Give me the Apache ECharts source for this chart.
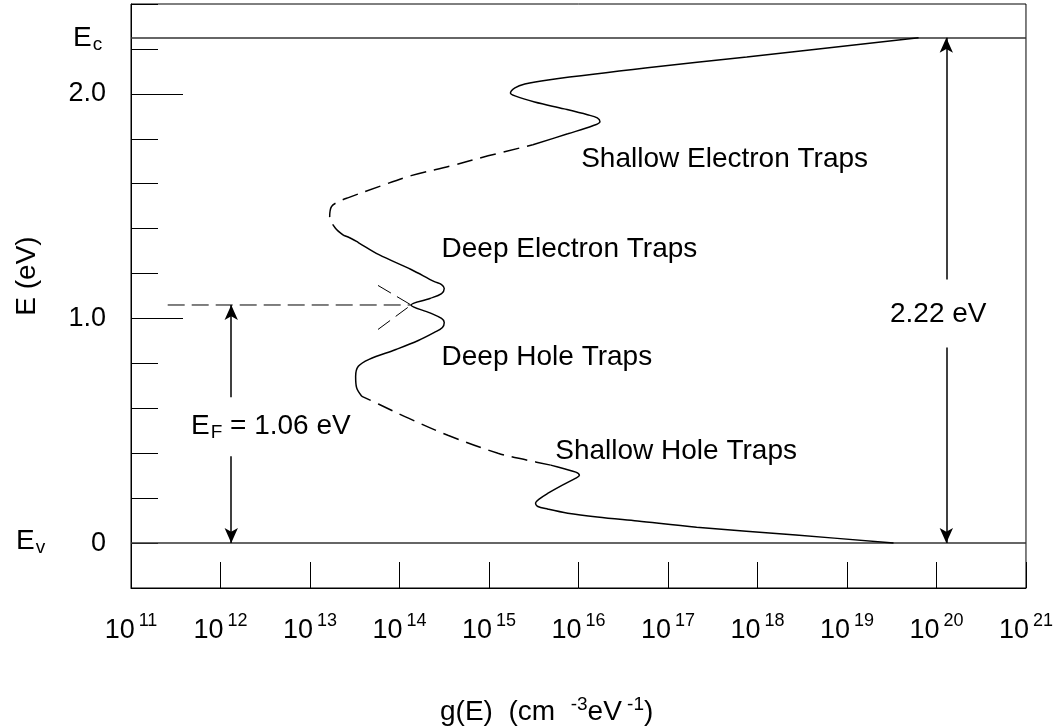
<!DOCTYPE html>
<html><head><meta charset="utf-8">
<script src="https://cdn.jsdelivr.net/npm/echarts@6/dist/echarts.min.js"></script>
<style>html,body{margin:0;padding:0;background:#fff}#c{width:1056px;height:728px}</style>
</head><body><div id="c"></div>
<script>
// x = log10 g(E) [cm^-3 eV^-1], y = E [eV]
const xTickValues = [11, 12, 13, 14, 15, 16, 17, 18, 19, 20, 21];
const yLabelValues = [0, 1, 2];
const yLongTickValues = [1, 2];
const Ec = 2.25, Ev = 0, EF = 1.06;
const gapArrowX = 20.11, fermiArrowX = 12.12;

// band-tail / trap distribution curve
const shallowHoleSolid = [[19.52,0],[18.43,0.036],[17.32,0.071],[16.66,0.098],[16.21,0.116],[15.88,0.133],[15.66,0.151],[15.54,0.164],[15.52,0.178],[15.56,0.196],[15.66,0.222],[15.82,0.258],[15.97,0.289],[16.01,0.302],[15.97,0.316],[15.82,0.333],[15.69,0.347]];
const lowerDashed = [[15.69,0.347],[15.43,0.369],[15.10,0.40],[14.54,0.48],[14.10,0.556],[13.77,0.618],[13.58,0.653]];
const deepTrapSolid = [[13.58,0.653],[13.52,0.693],[13.51,0.742],[13.54,0.787],[13.66,0.818],[13.96,0.862],[14.21,0.902],[14.39,0.938],[14.48,0.96],[14.50,0.982],[14.47,1.0],[14.34,1.025],[14.13,1.06],[14.34,1.089],[14.47,1.111],[14.50,1.133],[14.47,1.151],[14.39,1.164],[14.13,1.218],[13.77,1.284],[13.54,1.338],[13.46,1.356],[13.38,1.369]];
const upperDashed = [[13.38,1.369],[13.28,1.404],[13.22,1.453],[13.24,1.498],[13.32,1.52],[13.43,1.538],[13.77,1.587],[14.13,1.636],[14.58,1.68],[14.99,1.724],[15.49,1.773]];
const shallowElectronSolid = [[15.49,1.773],[15.88,1.822],[16.16,1.858],[16.24,1.876],[16.21,1.893],[16.10,1.907],[15.84,1.933],[15.51,1.964],[15.29,1.991],[15.24,2.004],[15.29,2.027],[15.40,2.044],[15.66,2.062],[16.77,2.116],[17.88,2.164],[19.80,2.25]];
const fermiLine = [[11.41,1.06],[14.13,1.06]];
const tangentUpper = [[13.76,1.147],[14.13,1.06]];
const tangentLower = [[13.76,0.951],[14.13,1.06]];
// arrow segments [from E, to E] (gaps leave room for labels)
const fermiArrowParts = [[0.649, 1.06], [0.387, 0]];
const gapArrowParts = [[1.173, 2.25], [0.871, 0]];

const notes = [
  {text: 'Shallow Electron Traps', x: 16.03, y: 1.71},
  {text: 'Deep Electron Traps', x: 14.47, y: 1.31},
  {text: 'Deep Hole Traps', x: 14.47, y: 0.825},
  {text: 'Shallow Hole Traps', x: 15.74, y: 0.41}
];

const FONT = '"Liberation Sans", Arial, Helvetica, sans-serif';
const chart = echarts.init(document.getElementById('c'), null, {renderer: 'canvas'});

function curve(name, data, dashed) {
  return {
    name, type: 'line', data, showSymbol: false, symbol: 'none', smooth: 0.35,
    silent: true, animation: false, z: 5,
    lineStyle: {color: '#000', width: 1.5, type: dashed ? [16, 8] : 'solid'}
  };
}
function arrowLines(x, parts) {
  return parts.map(p => [{coord: [x, p[0]]}, {coord: [x, p[1]]}]);
}

const option = {
  animation: false,
  backgroundColor: '#fff',
  grid: {left: 131, top: 4, right: 25, bottom: 140, show: true, borderColor: '#000', borderWidth: 1, backgroundColor: 'transparent'},
  xAxis: {
    type: 'value', min: 11, max: 21, interval: 1,
    axisLine: {show: true, onZero: false, lineStyle: {color: '#000', width: 1}},
    axisTick: {show: true, inside: true, length: 26, lineStyle: {color: '#000', width: 1}},
    splitLine: {show: false},
    axisLabel: {
      show: true, margin: 24, showMinLabel: true, showMaxLabel: true,
      formatter: v => '{a|10}{b|' + v + '}',
      rich: {
        a: {fontSize: 27, lineHeight: 30, padding: [7, 0, 0, 0], fontFamily: FONT, color: '#000', verticalAlign: 'middle'},
        b: {fontSize: 18, lineHeight: 10, fontFamily: FONT, color: '#000', verticalAlign: 'top', padding: [0, 0, 0, 4]}
      }
    }
  },
  yAxis: [{
    type: 'value', min: -0.2, max: 2.4, interval: 0.2,
    axisLine: {show: true, onZero: false, lineStyle: {color: '#000', width: 1}},
    axisTick: {show: true, inside: true, length: 27, lineStyle: {color: '#000', width: 1}},
    axisLabel: {show: false}, splitLine: {show: false}
  }, {
    type: 'value', min: -0.2, max: 2.4, position: 'left',
    axisLine: {show: false, onZero: false},
    axisTick: {show: true, inside: true, length: 52, customValues: yLongTickValues, lineStyle: {color: '#000', width: 1}},
    axisLabel: {show: true, customValues: yLabelValues, margin: 25, fontSize: 27, fontFamily: FONT, color: '#000',
      formatter: v => v === 0 ? '0' : v.toFixed(1)},
    splitLine: {show: false}
  }],
  series: [
    curve('shallowHole', shallowHoleSolid, false),
    curve('lowerDashed', lowerDashed, true),
    curve('deepTraps', deepTrapSolid, false),
    curve('upperDashed', upperDashed, true),
    curve('shallowElectron', shallowElectronSolid, false),
    Object.assign(curve('tangentUpper', tangentUpper, true), {smooth: false, lineStyle: {color: '#000', width: 1, type: [15, 7]}}),
    Object.assign(curve('tangentLower', tangentLower, true), {smooth: false, lineStyle: {color: '#000', width: 1, type: [15, 7]}}),
    Object.assign(curve('fermi', fermiLine, true), {smooth: false, lineStyle: {color: '#000', width: 1, type: [17, 7]},
      markLine: {
        silent: true, animation: false, symbol: ['none', 'none'], label: {show: false},
        lineStyle: {color: '#333', width: 1.5, type: 'solid'},
        data: [[{coord: [11, Ec]}, {coord: [21, Ec]}], [{coord: [11, Ev]}, {coord: [21, Ev]}]]
      }
    }),
    {
      name: 'arrows', type: 'line', data: [], silent: true, animation: false,
      markLine: {
        silent: true, animation: false, symbol: ['none', 'arrow'], symbolSize: [10, 15], label: {show: false},
        lineStyle: {color: '#000', width: 1.5, type: 'solid'},
        data: arrowLines(fermiArrowX, fermiArrowParts).concat(arrowLines(gapArrowX, gapArrowParts))
      }
    }
  ]
};
chart.setOption(option);

function px(x, y) { return chart.convertToPixel({gridIndex: 0}, [x, y]); }
const gl = option.grid.left;
const graphics = [];
notes.forEach(n => {
  const p = px(n.x, n.y);
  graphics.push({type: 'text', silent: true, style: {x: p[0], y: p[1], text: n.text, font: '28px ' + FONT, fill: '#000', textAlign: 'left', textVerticalAlign: 'middle'}});
});
const pg = px(20.02, 1.02);
graphics.push({type: 'text', silent: true, style: {x: pg[0], y: pg[1], text: '2.22 eV', font: '28px ' + FONT, fill: '#000', textAlign: 'center', textVerticalAlign: 'middle'}});

function subText(x, y, main, sub, rest, padB) {
  return {type: 'text', silent: true, style: {x: x, y: y + padB / 2, text: '{e|' + main + '}{s|' + sub + '}' + (rest ? '{e|' + rest + '}' : ''),
    textAlign: 'left', textVerticalAlign: 'middle',
    rich: {e: {fontSize: 28, lineHeight: 30, padding: [0, 0, padB, 0], fontFamily: FONT, fill: '#000', verticalAlign: 'top'},
           s: {fontSize: 19, lineHeight: 10, fontFamily: FONT, fill: '#000', verticalAlign: 'bottom', padding: [0, 0, 0, 1]}}}};
}
const pf = px(11.67, 0.529);
graphics.push(subText(pf[0], pf[1], 'E', 'F', ' = 1.06 eV', 6));
const pc = px(11, Ec);
graphics.push(subText(gl - 58, pc[1], 'E', 'c', '', 4));
const pv = px(11, Ev);
graphics.push(subText(gl - 115, pv[1] - 3, 'E', 'v', '', 4));
// axis titles
graphics.push({type: 'text', silent: true, style: {x: 440, y: 710, text: '{n|g(E)  (cm  }{s|-3}{n|eV}{s| -1}{n|)}', textAlign: 'left', textVerticalAlign: 'middle',
  rich: {n: {fontSize: 28, lineHeight: 30, padding: [4, 0, 0, 0], fontFamily: FONT, fill: '#000', verticalAlign: 'middle'}, s: {fontSize: 19, lineHeight: 10, fontFamily: FONT, fill: '#000', verticalAlign: 'top'}}}});
graphics.push({type: 'text', silent: true, x: 27, y: 276, rotation: Math.PI / 2, style: {x: 0, y: 0, text: 'E (eV)', font: '28px ' + FONT, fill: '#000', textAlign: 'center', textVerticalAlign: 'middle'}});
chart.setOption({graphic: graphics});
</script>
</body></html>
